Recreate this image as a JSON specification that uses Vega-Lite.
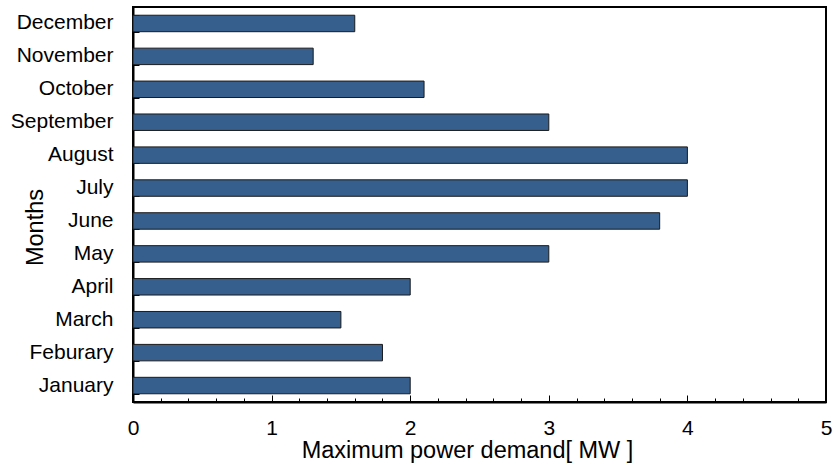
{
  "$schema": "https://vega.github.io/schema/vega-lite/v6.json",
  "width": 693,
  "height": 395,
  "autosize": {"type": "none"},
  "padding": {"left": 133, "top": 7, "right": 7, "bottom": 64},
  "background": "white",
  "config": {
    "font": "Liberation Sans",
    "view": {"stroke": "black", "strokeWidth": 2},
    "axis": {
      "domainColor": "black",
      "domainWidth": 2,
      "tickColor": "black",
      "tickWidth": 1,
      "labelColor": "black",
      "titleColor": "black",
      "titleFontWeight": "normal",
      "labelFontSize": 21,
      "titleFontSize": 23.5,
      "grid": false,
      "zindex": 1
    }
  },
  "data": {
    "values": [
      {"month": "January", "demand": 2.0},
      {"month": "Feburary", "demand": 1.8},
      {"month": "March", "demand": 1.5},
      {"month": "April", "demand": 2.0},
      {"month": "May", "demand": 3.0},
      {"month": "June", "demand": 3.8},
      {"month": "July", "demand": 4.0},
      {"month": "August", "demand": 4.0},
      {"month": "September", "demand": 3.0},
      {"month": "October", "demand": 2.1},
      {"month": "November", "demand": 1.3},
      {"month": "December", "demand": 1.6}
    ]
  },
  "layer": [
    {
      "mark": {"type": "bar", "color": "#365F8D", "stroke": "#1a1a1a", "strokeWidth": 1},
      "encoding": {
        "y": {
          "field": "month",
          "type": "nominal",
          "sort": ["December", "November", "October", "September", "August", "July", "June", "May", "April", "March", "Feburary", "January"],
          "scale": {"paddingInner": 0.5, "paddingOuter": 0.25},
          "axis": {
            "title": "Months",
            "tickSize": -6,
            "labelPadding": 26,
            "titleX": -98,
            "titleY": 220,
            "titleAngle": -90,
            "titleBaseline": "middle",
            "titleAlign": "center"
          }
        },
        "x": {
          "field": "demand",
          "type": "quantitative",
          "scale": {"domain": [0, 5], "nice": false},
          "axis": {
            "title": "Maximum power demand[ MW ]",
            "values": [0, 0.2, 0.4, 0.6, 0.8, 1, 1.2, 1.4, 1.6, 1.8, 2, 2.2, 2.4, 2.6, 2.8, 3, 3.2, 3.4, 3.6, 3.8, 4, 4.2, 4.4, 4.6, 4.8, 5],
            "labelExpr": "abs(datum.value - round(datum.value)) < 0.001 ? format(datum.value, 'd') : ''",
            "labelOverlap": false,
            "labelFlush": false,
            "tickSize": {"condition": {"test": "abs(datum.value - round(datum.value)) < 0.001", "value": -7}, "value": -4},
            "labelPadding": 22,
            "titleX": 334,
            "titleY": 48,
            "titleAlign": "center",
            "titleBaseline": "middle"
          }
        }
      }
    },
    {
      "mark": {"type": "bar", "opacity": 0},
      "encoding": {
        "y": {
          "field": "month",
          "type": "nominal",
          "sort": ["December", "November", "October", "September", "August", "July", "June", "May", "April", "March", "Feburary", "January"],
          "scale": {"paddingInner": 0.5, "paddingOuter": 0.25},
          "axis": {
            "orient": "left",
            "labels": false,
            "title": null,
            "domain": false,
            "tickSize": -6,
            "tickBand": "extent",
            "tickExtra": true
          }
        }
      }
    }
  ],
  "resolve": {"scale": {"y": "independent"}, "axis": {"y": "independent"}}
}
